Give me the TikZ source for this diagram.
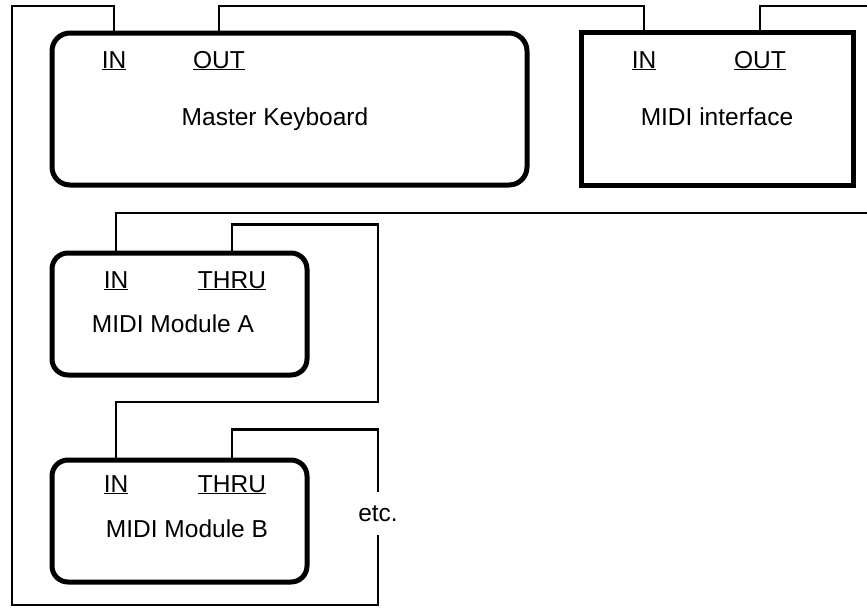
\documentclass[tikz,border=0pt]{standalone}
\usepackage{fontspec}
\setmainfont{Liberation Sans}
\begin{document}
\begin{tikzpicture}[x=1pt,y=-1pt,
  devbox/.style={draw, line width=5pt, inner sep=0pt},
  roundbox/.style={devbox, rounded corners=#1},
  wire/.style={line width=2.2pt},
  lbl/.style={font=\fontsize{24.5}{28}\selectfont, anchor=base, inner sep=0pt},
  port/.style={lbl}
]
\useasboundingbox (0,0) rectangle (867,608);

% helper coordinates
\coordinate (yTop) at (0,6);
\coordinate (yBot) at (0,605);
\coordinate (yMid) at (0,213);
\coordinate (yAB) at (0,402);
\coordinate (xLeft) at (12,0);
\coordinate (xRight) at (378,0);
\coordinate (xEdge) at (867,0);

% boxes
\node[roundbox=18pt, minimum width=475pt, minimum height=152pt] (mk) at (289.5,109) {};
\node[devbox, minimum width=272pt, minimum height=153pt] (mi) at (717,108.5) {};
\node[roundbox=16pt, minimum width=255pt, minimum height=122pt] (ma) at (179.5,314) {};
\node[roundbox=16pt, minimum width=255pt, minimum height=122pt] (mb) at (179.5,521) {};

% labels
\node[port] (mkIN) at (114,68) {\underline{IN}};
\node[port] (mkOUT) at (219,68) {\underline{OUT}};
\node[lbl] (mkT) at (275,125) {Master Keyboard};

\node[port] (miIN) at (644,68) {\underline{IN}};
\node[port] (miOUT) at (760,68) {\underline{OUT}};
\node[lbl] (miT) at (717,125) {MIDI interface};

\node[port] (maIN) at (116,288) {\underline{IN}};
\node[port] (maTHRU) at (232,288) {\underline{THRU}};
\node[lbl] (maT) at (173,332) {MIDI Module A};

\node[port] (mbIN) at (116,492) {\underline{IN}};
\node[port] (mbTHRU) at (232,492) {\underline{THRU}};
\node[lbl] (mbT) at (187,537) {MIDI Module B};

\node[font=\fontsize{24.5}{28}\selectfont, inner sep=0pt, minimum height=43pt] (etc) at (378,513.5) {etc.};

% wires
\draw[wire] (mkOUT |- mk.north) |- (miIN |- yTop) -- (miIN |- mi.north);
\draw[wire] (miOUT |- mi.north) |- (xEdge |- yTop);
\draw[wire] (maIN |- ma.north) |- (xEdge |- yMid);
\draw[wire] (maTHRU |- ma.north) -- ++(0,-26) -| (xRight |- yAB) -| (mbIN |- mb.north);
\draw[wire] (mbTHRU |- mb.north) -- ++(0,-28) -| (etc.north);
\draw[wire] (etc.south) |- (xLeft |- yBot) |- (mkIN |- yTop) -- (mkIN |- mk.north);
\end{tikzpicture}
\end{document}
